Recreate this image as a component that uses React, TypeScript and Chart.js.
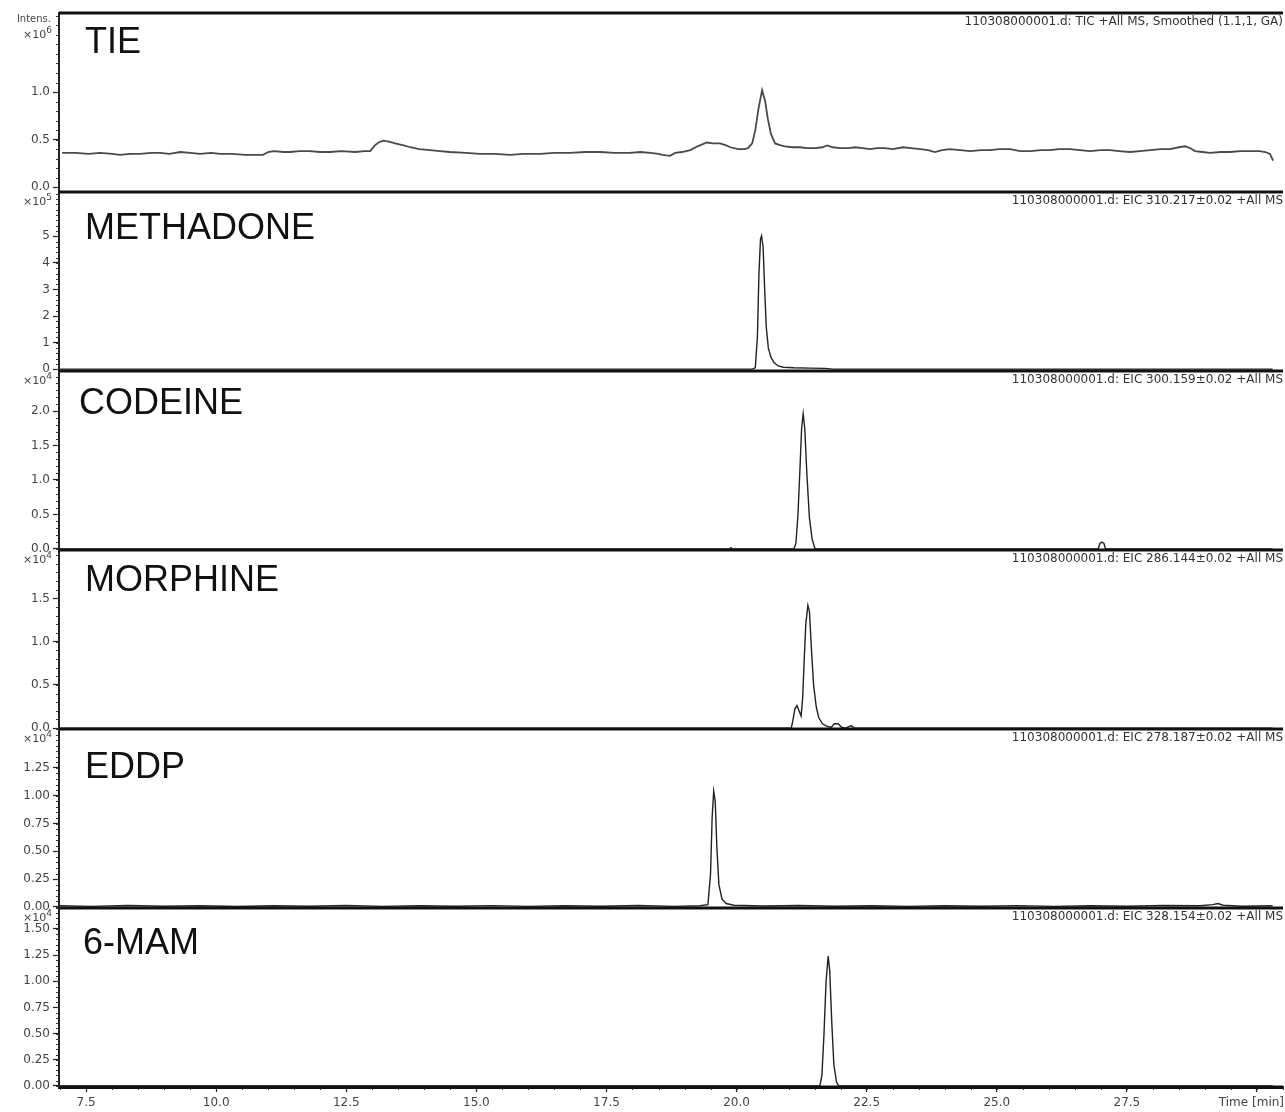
import React, { useEffect, useRef } from 'react';
import { Chart, registerables } from 'chart.js';

Chart.register(...registerables);

// ---------------- data ----------------
const panelNames = ['TIE', 'METHADONE', 'CODEINE', 'MORPHINE', 'EDDP', '6-MAM'];
const traceTitles = [
  '110308000001.d: TIC +All MS, Smoothed (1.1,1, GA)',
  '110308000001.d: EIC 310.217\u00b10.02 +All MS',
  '110308000001.d: EIC 300.159\u00b10.02 +All MS',
  '110308000001.d: EIC 286.144\u00b10.02 +All MS',
  '110308000001.d: EIC 278.187\u00b10.02 +All MS',
  '110308000001.d: EIC 328.154\u00b10.02 +All MS',
];
const intensityExponents = [6, 5, 4, 4, 4, 4];
const timeTicks = [7.5, 10.0, 12.5, 15.0, 17.5, 20.0, 22.5, 25.0, 27.5, 30.0];
const timeRange = [6.98, 30.5];
const timeAxisTitle = 'Time [min]';
const intensityTitle = 'Intens.';

const tieTicks = [0, 0.5, 1.0];
const methadoneTicks = [0, 1, 2, 3, 4, 5];
const codeineTicks = [0, 0.5, 1.0, 1.5, 2.0];
const morphineTicks = [0, 0.5, 1.0, 1.5];
const eddpTicks = [0, 0.25, 0.5, 0.75, 1.0, 1.25];
const mamTicks = [0, 0.25, 0.5, 0.75, 1.0, 1.25, 1.5];
const tickDecimals = [1, 0, 1, 1, 2, 2];
const yRanges = [
  [-0.05, 1.83],
  [-0.07, 6.67],
  [-0.015, 2.58],
  [-0.01, 2.06],
  [-0.01, 1.6],
  [-0.01, 1.7],
];
const yMinorSteps = [0.1, 0.2, 0.1, 0.1, 0.05, 0.05];

const tieTrace = [
  [7.04, 0.36], [7.3, 0.36], [7.55, 0.35], [7.77, 0.36], [8.0, 0.35], [8.15, 0.34], [8.35, 0.35], [8.54, 0.35],
  [8.75, 0.36], [8.92, 0.36], [9.1, 0.35], [9.31, 0.37], [9.5, 0.36], [9.69, 0.35], [9.9, 0.36], [10.08, 0.35],
  [10.3, 0.35], [10.56, 0.34], [10.75, 0.34], [10.9, 0.34], [11.0, 0.37], [11.1, 0.38], [11.3, 0.37], [11.42, 0.37],
  [11.6, 0.38], [11.8, 0.38], [12.0, 0.37], [12.19, 0.37], [12.4, 0.38], [12.67, 0.37], [12.85, 0.38], [12.96, 0.38],
  [13.05, 0.44], [13.12, 0.47], [13.21, 0.49], [13.32, 0.48], [13.44, 0.46], [13.6, 0.44], [13.73, 0.42], [13.9, 0.40],
  [14.11, 0.39], [14.3, 0.38], [14.49, 0.37], [14.8, 0.36], [15.07, 0.35], [15.35, 0.35], [15.65, 0.34], [15.9, 0.35],
  [16.22, 0.35], [16.5, 0.36], [16.8, 0.36], [17.1, 0.37], [17.38, 0.37], [17.65, 0.36], [17.95, 0.36], [18.15, 0.37],
  [18.34, 0.36], [18.5, 0.35], [18.57, 0.34], [18.72, 0.33], [18.82, 0.36], [18.95, 0.37], [19.11, 0.39], [19.25, 0.43],
  [19.43, 0.47], [19.55, 0.46], [19.68, 0.46], [19.8, 0.44], [19.88, 0.42], [20.03, 0.40], [20.15, 0.40], [20.22, 0.41],
  [20.3, 0.46], [20.36, 0.6], [20.42, 0.82], [20.49, 1.02], [20.55, 0.9], [20.6, 0.72], [20.66, 0.56], [20.74, 0.46],
  [20.85, 0.44], [20.93, 0.43], [21.07, 0.42], [21.22, 0.42], [21.35, 0.41], [21.51, 0.41], [21.65, 0.42], [21.74, 0.44],
  [21.85, 0.42], [21.99, 0.41], [22.15, 0.41], [22.28, 0.42], [22.42, 0.41], [22.57, 0.40], [22.7, 0.41], [22.85, 0.41],
  [23.0, 0.40], [23.2, 0.42], [23.35, 0.41], [23.53, 0.40], [23.68, 0.39], [23.81, 0.37], [23.95, 0.39], [24.1, 0.40],
  [24.3, 0.39], [24.49, 0.38], [24.7, 0.39], [24.87, 0.39], [25.05, 0.40], [25.26, 0.40], [25.45, 0.38], [25.64, 0.38],
  [25.85, 0.39], [26.02, 0.39], [26.2, 0.40], [26.41, 0.40], [26.6, 0.39], [26.79, 0.38], [27.0, 0.39], [27.18, 0.39],
  [27.35, 0.38], [27.56, 0.37], [27.75, 0.38], [27.95, 0.39], [28.15, 0.40], [28.33, 0.40], [28.5, 0.42], [28.62, 0.43],
  [28.72, 0.41], [28.81, 0.38], [28.95, 0.37], [29.1, 0.36], [29.3, 0.37], [29.48, 0.37], [29.68, 0.38], [29.87, 0.38],
  [30.05, 0.38], [30.16, 0.37], [30.25, 0.35], [30.31, 0.28],
];

const methadoneTrace = [
  [7.0, 0], [20.3, 0], [20.36, 0.05], [20.4, 1.2], [20.43, 3.6], [20.46, 4.9], [20.48, 5.02], [20.51, 4.6],
  [20.54, 3.0], [20.57, 1.6], [20.61, 0.8], [20.66, 0.45], [20.72, 0.25], [20.8, 0.12], [20.9, 0.07], [21.1, 0.05],
  [21.4, 0.04], [21.7, 0.03], [21.8, 0.01], [21.85, 0], [30.3, 0],
];

const codeineTrace = [
  [7.0, 0], [19.86, 0], [19.89, 0.02], [19.92, 0], [21.1, 0], [21.14, 0.08], [21.18, 0.5], [21.22, 1.2],
  [21.25, 1.75], [21.28, 1.96], [21.31, 1.75], [21.35, 1.1], [21.4, 0.45], [21.45, 0.15], [21.5, 0.02], [21.52, 0],
  [26.95, 0], [26.98, 0.08], [27.02, 0.1], [27.06, 0.08], [27.09, 0], [30.3, 0],
];

const morphineTrace = [
  [7.0, 0], [21.05, 0], [21.08, 0.08], [21.12, 0.22], [21.16, 0.26], [21.2, 0.2], [21.24, 0.14], [21.27, 0.35],
  [21.3, 0.8], [21.33, 1.2], [21.37, 1.42], [21.4, 1.35], [21.44, 0.9], [21.48, 0.5], [21.53, 0.25], [21.58, 0.12],
  [21.65, 0.05], [21.74, 0.02], [21.82, 0.01], [21.88, 0.05], [21.95, 0.05], [22.02, 0.01], [22.1, 0], [22.2, 0.03],
  [22.26, 0], [30.3, 0],
];

const eddpTrace = [
  [7.0, 0.01], [7.6, 0.005], [8.3, 0.012], [9.0, 0.006], [9.7, 0.01], [10.4, 0.004], [11.1, 0.01], [11.8, 0.006],
  [12.5, 0.012], [13.2, 0.005], [13.9, 0.01], [14.6, 0.006], [15.3, 0.011], [16.0, 0.005], [16.7, 0.01], [17.4, 0.006],
  [18.1, 0.012], [18.8, 0.005], [19.3, 0.01], [19.45, 0.02], [19.5, 0.3], [19.53, 0.8], [19.56, 1.04], [19.59, 0.95],
  [19.62, 0.55], [19.66, 0.2], [19.72, 0.07], [19.8, 0.03], [19.95, 0.015], [20.5, 0.008], [21.2, 0.012], [21.9, 0.006],
  [22.6, 0.01], [23.3, 0.005], [24.0, 0.01], [24.7, 0.006], [25.4, 0.011], [26.1, 0.005], [26.8, 0.01], [27.5, 0.006],
  [28.2, 0.012], [28.9, 0.01], [29.15, 0.02], [29.25, 0.03], [29.35, 0.015], [29.7, 0.006], [30.3, 0.01],
];

const mamTrace = [
  [7.0, 0], [21.6, 0], [21.64, 0.1], [21.68, 0.5], [21.72, 1.0], [21.76, 1.24], [21.79, 1.1], [21.83, 0.6],
  [21.87, 0.2], [21.92, 0.04], [21.96, 0], [30.3, 0],
];

const panelTraces = [tieTrace, methadoneTrace, codeineTrace, morphineTrace, eddpTrace, mamTrace];
const panelTicks = [tieTicks, methadoneTicks, codeineTicks, morphineTicks, eddpTicks, mamTicks];

// ---------------- styles ----------------
const FONT_SMALL = 'DejaVu Sans';
const FONT_BIG = 'Liberation Sans';
const nameOffsetX = [26, 26, 20, 26, 26, 24];
const nameOffsetY = [30, 37, 33, 31, 39, 36];
const traceColors = ['#4a4a4a', '#222', '#222', '#222', '#222', '#222'];
const traceWidths = [1.8, 1.4, 1.4, 1.4, 1.4, 1.4];
const yIds = ['y1', 'y2', 'y3', 'y4', 'y5', 'y6'];

const decorPlugin = {
  id: 'decor',
  afterDraw(chart: any) {
    const ctx = chart.ctx as CanvasRenderingContext2D;
    const area = chart.chartArea;
    ctx.save();

    // minor ticks on y axes
    ctx.strokeStyle = '#333';
    ctx.lineWidth = 1;
    yIds.forEach((id, i) => {
      const s = chart.scales[id];
      const step = yMinorSteps[i];
      const k0 = Math.ceil(s.min / step - 1e-9);
      for (let k = k0; k * step <= s.max + 1e-9; k++) {
        const y = Math.round(s.getPixelForValue(k * step)) + 0.5;
        ctx.beginPath();
        ctx.moveTo(s.right - 3, y);
        ctx.lineTo(s.right, y);
        ctx.stroke();
      }
    });

    // minor ticks on x axis
    const xs = chart.scales.x;
    for (let k = Math.ceil(xs.min / 0.5); k * 0.5 <= xs.max; k++) {
      const x = Math.round(xs.getPixelForValue(k * 0.5)) + 0.5;
      ctx.beginPath();
      ctx.moveTo(x, area.bottom);
      ctx.lineTo(x, area.bottom + 3);
      ctx.stroke();
    }

    // panel separators
    ctx.strokeStyle = '#111';
    ctx.lineWidth = 3;
    ctx.beginPath();
    ctx.moveTo(area.left, area.top);
    ctx.lineTo(area.right, area.top);
    ctx.stroke();
    yIds.forEach((id) => {
      const s = chart.scales[id];
      ctx.beginPath();
      ctx.moveTo(area.left, s.bottom);
      ctx.lineTo(area.right, s.bottom);
      ctx.stroke();
    });

    // texts
    ctx.textBaseline = 'middle';
    yIds.forEach((id, i) => {
      const s = chart.scales[id];
      // compound name
      ctx.fillStyle = '#111';
      ctx.textAlign = 'left';
      ctx.font = `36px "${FONT_BIG}"`;
      ctx.fillText(panelNames[i], area.left + nameOffsetX[i], s.top + nameOffsetY[i]);
      // trace title
      ctx.fillStyle = '#333';
      ctx.textAlign = 'right';
      ctx.font = `12px "${FONT_SMALL}"`;
      ctx.fillText(traceTitles[i], area.right, s.top + 9);
      // exponent
      const ey = s.top + (i === 0 ? 22 : 10);
      const sup = String(intensityExponents[i]);
      ctx.font = `9px "${FONT_SMALL}"`;
      const supW = ctx.measureText(sup).width;
      ctx.fillStyle = '#444';
      ctx.fillText(sup, s.right - 7, ey - 4);
      ctx.font = `11px "${FONT_SMALL}"`;
      ctx.fillText('\u00d710', s.right - 7 - supW, ey);
    });

    ctx.fillStyle = '#444';
    ctx.textAlign = 'right';
    ctx.font = `10px "${FONT_SMALL}"`;
    ctx.fillText(intensityTitle, chart.scales.y1.right - 8, area.top + 6);

    ctx.font = `12px "${FONT_SMALL}"`;
    ctx.fillText(timeAxisTitle, chart.width - 1, area.bottom + 16);

    ctx.restore();
  },
};

export default function App() {
  const ref = useRef<HTMLCanvasElement>(null);

  useEffect(() => {
    const canvas = ref.current;
    if (!canvas) return;

    const scales: any = {
      x: {
        type: 'linear',
        position: 'bottom',
        min: timeRange[0],
        max: timeRange[1],
        afterBuildTicks: (s: any) => {
          s.ticks = timeTicks.map((v) => ({ value: v }));
        },
        afterFit: (s: any) => {
          s.height = 25;
        },
        ticks: {
          autoSkip: false,
          maxRotation: 0,
          padding: 4,
          color: '#444',
          font: { family: FONT_SMALL, size: 12 },
          callback: (v: any) => (Number(v) >= 29.99 ? '' : Number(v).toFixed(1)),
        },
        grid: { drawOnChartArea: false, drawTicks: true, tickLength: 5, tickColor: '#222', tickWidth: 1.2 },
        border: { display: true, color: '#111', width: 3 },
      },
    };

    for (let i = 5; i >= 0; i--) {
      const idx = i;
      scales[yIds[idx]] = {
        type: 'linear',
        position: 'left',
        stack: 'panels',
        stackWeight: 1,
        min: yRanges[idx][0],
        max: yRanges[idx][1],
        afterBuildTicks: (s: any) => {
          s.ticks = panelTicks[idx].map((v) => ({ value: v }));
        },
        afterFit: (s: any) => {
          s.width = 59;
        },
        ticks: {
          autoSkip: false,
          padding: 3,
          color: '#444',
          font: { family: FONT_SMALL, size: 12 },
          callback: (v: any) => Number(v).toFixed(tickDecimals[idx]),
        },
        grid: { drawOnChartArea: false, drawTicks: true, tickLength: 6, tickColor: '#222', tickWidth: 1.2 },
        border: { display: true, color: '#222', width: 2 },
      };
    }

    const datasets = panelTraces.map((trace, i) => ({
      label: panelNames[i],
      data: trace.map(([x, y]) => ({ x, y })),
      xAxisID: 'x',
      yAxisID: yIds[i],
      borderColor: traceColors[i],
      borderWidth: traceWidths[i],
      pointRadius: 0,
      fill: false,
      tension: 0,
    }));

    const chart = new Chart(canvas, {
      type: 'line',
      data: { datasets },
      options: {
        responsive: false,
        animation: false,
        devicePixelRatio: 1,
        layout: { padding: { top: 13, right: 2, left: 0, bottom: 0 } },
        plugins: { legend: { display: false }, tooltip: { enabled: false } },
        scales,
      },
      plugins: [decorPlugin],
    } as any);

    return () => chart.destroy();
  }, []);

  return (
    <div style={{ position: 'absolute', left: 0, top: 0, width: 1285, height: 1112, background: '#fff' }}>
      <canvas ref={ref} width={1285} height={1112} style={{ display: 'block' }} />
    </div>
  );
}
